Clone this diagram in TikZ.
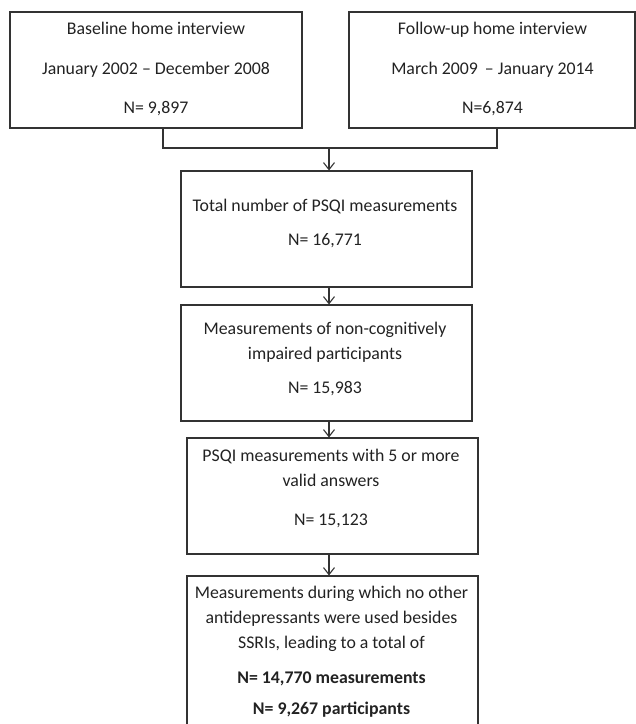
\documentclass[tikz,border=0pt]{standalone}
\usepackage{fontspec}
\setmainfont{Carlito}
\usetikzlibrary{arrows.meta}
\definecolor{linegray}{HTML}{333333}
\definecolor{textgray}{HTML}{222222}
\tikzset{
  box/.style={draw=linegray, line width=1.1pt, inner sep=0pt, minimum height=116pt},
  txt/.style={align=center, text=textgray, inner sep=0pt, font=\fontsize{17.8}{25}\selectfont},
}
\begin{document}
\begin{tikzpicture}[x=1pt,y=-1pt,>={Straight Barb[length=7pt,width=11pt]}]
\useasboundingbox (0,0) rectangle (636,724);
% boxes
\node[box, minimum width=292pt] (base) at (156,70) {};
\node[box, minimum width=286pt] (follow) at (492,70) {};
\node[box, minimum width=291pt] (total) at (326.5,229) {};
\node[box, minimum width=291pt] (nocog) at (326.5,363) {};
\node[box, minimum width=291pt] (valid) at (332.5,496) {};
\node[box, minimum width=291pt, minimum height=152pt] (final) at (332.5,652) {};
% texts
\node[txt] (baseT) at (156,68.5) {Baseline home interview\\[15pt] January 2002 -- December 2008\\[14pt] N= 9,897};
\node[txt] (followT) at (492.5,68.5) {Follow-up home interview\\[15pt] March 2009 \,-- January 2014\\[14pt] N=6,874};
\node[txt] (totalT) at (325,223.5) {Total number of PSQI measurements\\[9pt] N= 16,771};
\node[txt] (nocogT) at (325,359) {Measurements of non-cognitively\\ impaired participants\\[9pt] N= 15,983};
\node[txt] (validT) at (331,488) {PSQI measurements with 5 or more\\ valid answers\\[14pt] N= 15,123};
\node[txt] (finalT) at (331.5,652) {Measurements during which no other\\ antidepressants were used besides\\ SSRIs, leading to a total of\\[10pt] \textbf{N= 14,770 measurements}\\[6pt] \textbf{N= 9,267 participants}};
% connectors
\coordinate (jl) at (163,148);
\coordinate (jr) at (497,148);
\coordinate (jm) at (329,148);
\draw[linegray, line width=1.1pt] (jl |- base.south) -- (jl) -- (jr) -- (jr |- follow.south);
\draw[linegray, line width=1.1pt, ->] (jm) -- (jm |- total.north);
\draw[linegray, line width=1.1pt, ->] (total.south -| jm) -- (nocog.north -| jm);
\draw[linegray, line width=1.1pt, ->] (nocog.south -| jm) -- (valid.north -| jm);
\draw[linegray, line width=1.1pt, ->] (valid.south -| jm) -- (final.north -| jm);
\end{tikzpicture}
\end{document}
